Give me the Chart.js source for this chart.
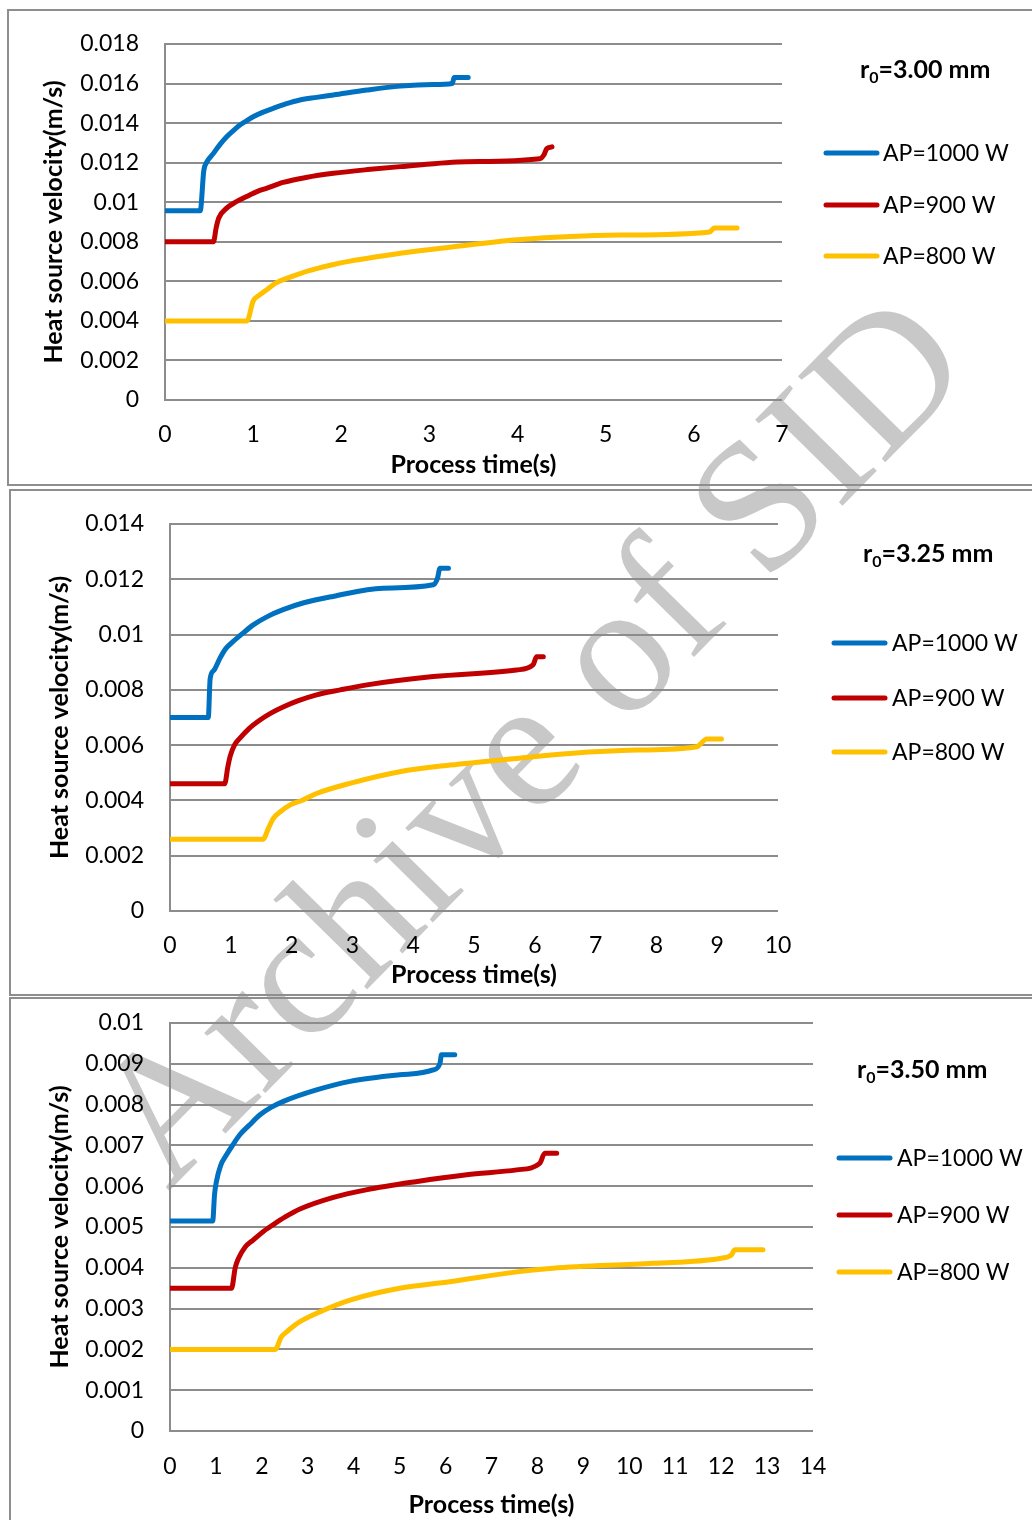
<!DOCTYPE html>
<html>
<head>
<meta charset="utf-8">
<title>Heat source velocity vs. process time</title>
<script src="https://cdn.jsdelivr.net/npm/chart.js@4.4.1/dist/chart.umd.min.js"></script>
<style>
  html, body { margin: 0; padding: 0; background: #ffffff; width: 1032px; height: 1520px; overflow: hidden; }
  #page { position: relative; width: 1032px; height: 1520px; }
  #mark { position: absolute; left: 0; top: 0; }
  .frame { position: absolute; border: 2px solid #8e8e8e; box-sizing: border-box; }
  .plot { position: absolute; left: 0; }
</style>
</head>
<body>
<div id="page">
  <canvas id="mark" width="1032" height="1520"></canvas>
  <div class="frame" style="left:7px; top:9px; width:1040px; height:477px;"></div>
  <div class="frame" style="left:9px; top:489px; width:1040px; height:507px;"></div>
  <div class="frame" style="left:9px; top:997px; width:1040px; height:540px;"></div>
  <canvas id="chart300" class="plot" width="1032" height="488" style="top:0px;"></canvas>
  <canvas id="chart325" class="plot" width="1032" height="508" style="top:488px;"></canvas>
  <canvas id="chart350" class="plot" width="1032" height="524" style="top:996px;"></canvas>
</div>
<script>
// ---- series labels and colours ----
const seriesLabels = ['AP=1000 W', 'AP=900 W', 'AP=800 W'];
const seriesColors = ['#0070C0', '#C00000', '#FFC000'];

// ---- r0 = 3.00 mm ----
const time300_1000 = [0, 0.40, 0.44, 0.47, 0.55, 0.62, 0.70, 0.77, 0.85, 0.92, 1.00, 1.10, 1.23, 1.37, 1.53, 1.72, 1.91, 2.29, 2.67, 3.04, 3.26, 3.28, 3.44];
const vel300_1000  = [0.00957, 0.00957, 0.0116, 0.0120, 0.01247, 0.0129, 0.01331, 0.0136, 0.0139, 0.0141, 0.01432, 0.01453, 0.01475, 0.01497, 0.01517, 0.0153, 0.01542, 0.01567, 0.01587, 0.01595, 0.0160, 0.0163, 0.0163];
const time300_900  = [0, 0.55, 0.58, 0.61, 0.70, 0.80, 0.93, 1.05, 1.15, 1.34, 1.60, 1.91, 2.30, 2.67, 3.42, 4.25, 4.30, 4.33, 4.39];
const vel300_900   = [0.0080, 0.0080, 0.0087, 0.0092, 0.0097, 0.0100, 0.0103, 0.01055, 0.0107, 0.0110, 0.01125, 0.01146, 0.01165, 0.0118, 0.01205, 0.0122, 0.0124, 0.0127, 0.0128];
const time300_800  = [0, 0.93, 1.00, 1.07, 1.15, 1.25, 1.38, 1.55, 1.72, 1.90, 2.10, 2.40, 2.67, 3.23, 4.00, 5.16, 6.18, 6.23, 6.49];
const vel300_800   = [0.0040, 0.0040, 0.0050, 0.0053, 0.00556, 0.0059, 0.00615, 0.00642, 0.00664, 0.00684, 0.00702, 0.00724, 0.00742, 0.00772, 0.0081, 0.00834, 0.0085, 0.0087, 0.0087];
const xTicks300 = ['0', '1', '2', '3', '4', '5', '6', '7'];
const yTicks300 = ['0', '0.002', '0.004', '0.006', '0.008', '0.01', '0.012', '0.014', '0.016', '0.018'];

// ---- r0 = 3.25 mm ----
const time325_1000 = [0, 0.63, 0.66, 0.72, 0.82, 0.92, 1.04, 1.20, 1.37, 1.60, 1.86, 2.20, 2.68, 3.50, 4.33, 4.40, 4.44, 4.58];
const vel325_1000  = [0.0070, 0.0070, 0.0084, 0.0087, 0.00914, 0.0095, 0.00975, 0.01005, 0.01035, 0.01065, 0.0109, 0.01115, 0.01138, 0.01168, 0.0118, 0.01204, 0.0124, 0.0124];
const time325_900  = [0, 0.90, 0.95, 0.99, 1.06, 1.15, 1.30, 1.48, 1.66, 1.86, 2.10, 2.41, 2.80, 3.24, 4.33, 5.70, 5.97, 6.03, 6.14];
const vel325_900   = [0.0046, 0.0046, 0.0052, 0.0056, 0.0060, 0.00625, 0.0066, 0.00691, 0.00716, 0.00738, 0.0076, 0.00782, 0.0080, 0.00818, 0.00848, 0.00872, 0.0089, 0.0092, 0.0092];
const time325_800  = [0, 1.53, 1.62, 1.70, 1.82, 1.97, 2.17, 2.41, 2.96, 3.78, 4.61, 5.70, 6.58, 7.68, 8.66, 8.83, 9.07];
const vel325_800   = [0.0026, 0.0026, 0.0030, 0.00335, 0.0036, 0.00383, 0.0040, 0.00425, 0.00462, 0.00504, 0.00528, 0.00552, 0.0057, 0.00582, 0.00594, 0.00622, 0.00622];
const xTicks325 = ['0', '1', '2', '3', '4', '5', '6', '7', '8', '9', '10'];
const yTicks325 = ['0', '0.002', '0.004', '0.006', '0.008', '0.01', '0.012', '0.014'];

// ---- r0 = 3.50 mm ----
const time350_1000 = [0, 0.93, 0.97, 1.01, 1.10, 1.23, 1.36, 1.52, 1.73, 1.96, 2.20, 2.47, 3.19, 3.92, 5.00, 5.73, 5.88, 5.91, 6.20];
const vel350_1000  = [0.00515, 0.00515, 0.0058, 0.00611, 0.0065, 0.00677, 0.0070, 0.00726, 0.0075, 0.00775, 0.00793, 0.00808, 0.00836, 0.00857, 0.00873, 0.00885, 0.00902, 0.00922, 0.00922];
const time350_900  = [0, 1.34, 1.42, 1.49, 1.63, 1.81, 2.02, 2.25, 2.50, 2.83, 3.54, 4.27, 5.35, 6.46, 7.55, 8.05, 8.16, 8.42];
const vel350_900   = [0.0035, 0.0035, 0.0040, 0.00423, 0.0045, 0.00468, 0.00488, 0.00506, 0.00524, 0.00544, 0.00572, 0.00591, 0.00611, 0.00628, 0.0064, 0.00656, 0.00681, 0.00681];
const time350_800  = [0, 2.29, 2.42, 2.54, 2.68, 2.83, 3.26, 3.92, 5.00, 6.09, 7.55, 8.34, 10.52, 11.97, 12.22, 12.30, 12.91];
const vel350_800   = [0.0020, 0.0020, 0.0023, 0.00243, 0.00256, 0.00268, 0.00292, 0.00321, 0.0035, 0.00366, 0.0039, 0.00399, 0.00411, 0.00423, 0.00431, 0.00444, 0.00444];
const xTicks350 = ['0', '1', '2', '3', '4', '5', '6', '7', '8', '9', '10', '11', '12', '13', '14'];
const yTicks350 = ['0', '0.001', '0.002', '0.003', '0.004', '0.005', '0.006', '0.007', '0.008', '0.009', '0.01'];

const FONT = 'Lato';
const GRID = '#8c8c8c';
Chart.defaults.font.family = FONT;
Chart.defaults.color = '#000000';

// background watermark text across the page
(function drawMark() {
  const ctx = document.getElementById('mark').getContext('2d');
  ctx.save();
  ctx.translate(168, 1192);
  ctx.rotate(-45.5 * Math.PI / 180);
  ctx.font = '187px "Liberation Serif"';
  ctx.fillStyle = '#c8c8c8';
  ctx.textBaseline = 'alphabetic';
  ctx.fillText('Archive of SID', 0, 0);
  ctx.restore();
})();

function points(ts, vs) {
  return ts.map((t, i) => ({ x: t, y: vs[i] }));
}

// draws the r0 caption and the series key to the right of the plot
const sideKey = {
  id: 'sideKey',
  afterDraw(chart, args, opts) {
    const ctx = chart.ctx;
    ctx.save();
    let x = opts.captionX;
    const y = opts.captionY;
    ctx.fillStyle = '#000';
    ctx.textBaseline = 'alphabetic';
    ctx.textAlign = 'left';
    ctx.font = 'bold 25px ' + FONT;
    ctx.fillText('r', x, y);
    x += ctx.measureText('r').width;
    ctx.font = 'bold 16px ' + FONT;
    ctx.fillText('0', x, y + 5);
    x += ctx.measureText('0').width;
    ctx.font = 'bold 25px ' + FONT;
    ctx.fillText('=' + opts.radius + ' mm', x, y);
    ctx.font = '23px ' + FONT;
    ctx.textBaseline = 'middle';
    chart.data.datasets.forEach((ds, i) => {
      const ly = opts.keyY[i];
      ctx.strokeStyle = ds.borderColor;
      ctx.lineWidth = 5;
      ctx.lineCap = 'round';
      ctx.beginPath();
      ctx.moveTo(opts.keyX1, ly);
      ctx.lineTo(opts.keyX2, ly);
      ctx.stroke();
      ctx.fillStyle = '#000';
      ctx.fillText(ds.label, opts.keyTextX, ly + 1);
    });
    ctx.restore();
  }
};

function makeChart(id, spec) {
  const canvas = document.getElementById(id);
  const W = canvas.width, H = canvas.height, a = spec.area;
  return new Chart(canvas, {
    type: 'line',
    data: {
      datasets: spec.series.map((s, i) => ({
        label: seriesLabels[i],
        data: points(s[0], s[1]),
        borderColor: seriesColors[i],
        backgroundColor: seriesColors[i],
        borderWidth: 5,
        pointRadius: 0,
        cubicInterpolationMode: 'monotone',
        borderCapStyle: 'round',
        borderJoinStyle: 'round',
        fill: false
      }))
    },
    options: {
      responsive: false,
      animation: false,
      events: [],
      layout: { padding: { left: 0, top: a.top, right: W - a.right, bottom: 0 } },
      plugins: {
        legend: { display: false },
        tooltip: { enabled: false },
        sideKey: spec.key
      },
      scales: {
        x: {
          type: 'linear',
          min: 0,
          max: spec.xTicks.length - 1,
          grid: { display: false, drawTicks: false },
          border: { display: false },
          ticks: {
            stepSize: 1,
            autoSkip: false,
            maxRotation: 0,
            padding: spec.xTickPad,
            font: { size: 23 },
            color: '#000',
            callback: (v, i) => spec.xTicks[i]
          },
          title: {
            display: true,
            text: 'Process time(s)',
            font: { size: 25, weight: 'bold' },
            color: '#000',
            padding: { top: 0, bottom: spec.xTitlePad }
          },
          afterFit(s) { s.height = H - a.bottom; s.paddingLeft = 0; s.paddingRight = 0; }
        },
        y: {
          type: 'linear',
          min: 0,
          max: spec.yMax,
          grid: { color: GRID, lineWidth: 2, drawTicks: false },
          border: { display: true, color: GRID, width: 2 },
          ticks: {
            stepSize: spec.yStep,
            autoSkip: false,
            padding: 26,
            font: { size: 23 },
            color: '#000',
            callback: (v, i) => spec.yTicks[i]
          },
          title: {
            display: true,
            text: 'Heat source velocity(m/s)',
            font: { size: 25, weight: 'bold' },
            color: '#000',
            padding: { top: spec.yTitlePad, bottom: 0 }
          },
          afterFit(s) { s.width = a.left; s.paddingTop = 0; s.paddingBottom = 0; }
        }
      }
    },
    plugins: [sideKey]
  });
}

makeChart('chart300', {
  area: { left: 165, right: 782, top: 44, bottom: 400 },
  yMax: 0.018, yStep: 0.002,
  xTicks: xTicks300, yTicks: yTicks300,
  xTickPad: 21, xTitlePad: 8, yTitlePad: 39,
  series: [[time300_1000, vel300_1000], [time300_900, vel300_900], [time300_800, vel300_800]],
  key: { radius: '3.00', captionX: 860, captionY: 78, keyX1: 826, keyX2: 877, keyTextX: 883, keyY: [153, 205, 256] }
});

makeChart('chart325', {
  area: { left: 170, right: 778, top: 36, bottom: 423 },
  yMax: 0.014, yStep: 0.002,
  xTicks: xTicks325, yTicks: yTicks325,
  xTickPad: 21, xTitlePad: 6, yTitlePad: 45,
  series: [[time325_1000, vel325_1000], [time325_900, vel325_900], [time325_800, vel325_800]],
  key: { radius: '3.25', captionX: 863, captionY: 74, keyX1: 834, keyX2: 885, keyTextX: 892, keyY: [155, 210, 264] }
});

makeChart('chart350', {
  area: { left: 170, right: 813, top: 27, bottom: 435 },
  yMax: 0.01, yStep: 0.001,
  xTicks: xTicks350, yTicks: yTicks350,
  xTickPad: 22, xTitlePad: 0, yTitlePad: 45,
  series: [[time350_1000, vel350_1000], [time350_900, vel350_900], [time350_800, vel350_800]],
  key: { radius: '3.50', captionX: 857, captionY: 82, keyX1: 839, keyX2: 890, keyTextX: 897, keyY: [162, 219, 276] }
});
</script>
</body>
</html>
